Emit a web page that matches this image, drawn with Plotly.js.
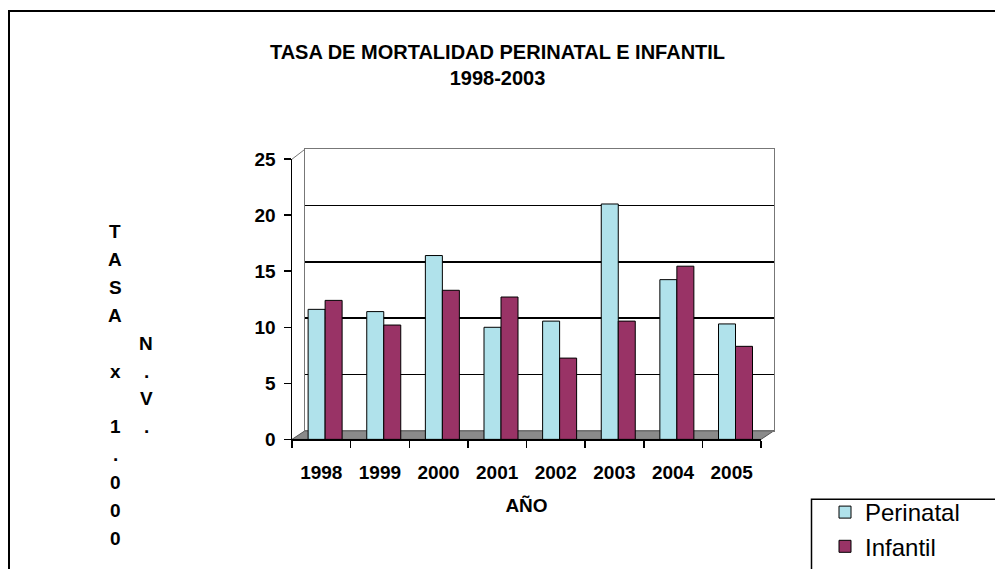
<!DOCTYPE html>
<html>
<head>
<meta charset="utf-8">
<script src="https://cdn.plot.ly/plotly-3.0.1.min.js"></script>
<style>
html,body{margin:0;padding:0;background:#fff;overflow:hidden;}
#chart{width:995px;height:569px;overflow:hidden;}
</style>
</head>
<body>
<div id="chart"></div>
<script>
var years = ["1998","1999","2000","2001","2002","2003","2004","2005"];
var perinatal = [11.6, 11.4, 16.4, 10.0, 10.55, 21.0, 14.25, 10.3];
var infantil = [12.4, 10.2, 13.3, 12.7, 7.25, 10.55, 15.45, 8.3];
var yTicks = [0, 5, 10, 15, 20, 25];
var titleMain = "TASA DE MORTALIDAD PERINATAL E INFANTIL";
var titleSub = "1998-2003";
var yTitleCol1 = "TASA x 1.000";
var yTitleCol2 = "N.V.";

var W = 995, H = 569;
function px(x){ return x / W; }
function py(y){ return 1 - y / H; }
var FONT = "Liberation Sans, Arial, sans-serif";

var traces = [
  {x:[null], y:[null], xaxis:'x', yaxis:'y', type:'scatter', mode:'markers', showlegend:false, hoverinfo:'skip'},
  {name:'Perinatal', x:years, y:perinatal, type:'bar', xaxis:'x2', yaxis:'y2',
   width:0.29, offset:-0.225,
   marker:{color:'#b0e2eb', line:{color:'#000', width:1}}},
  {name:'Infantil', x:years, y:infantil, type:'bar', xaxis:'x2', yaxis:'y2',
   width:0.29, offset:0.065,
   marker:{color:'#993366', line:{color:'#000', width:1}}}
];

var annotations = [];
for (var i = 0; i < yTitleCol1.length; i++) {
  var ch = yTitleCol1[i];
  if (ch === ' ') continue;
  annotations.push({text:ch, xref:'paper', yref:'paper', x:px(115), y:py(233 + 28*i),
    xanchor:'center', yanchor:'middle', showarrow:false,
    font:{family:FONT, size:19, color:'#000', weight:'bold'}});
}
for (var j = 0; j < yTitleCol2.length; j++) {
  annotations.push({text:yTitleCol2[j], xref:'paper', yref:'paper', x:px(146), y:py(345 + 28*j),
    xanchor:'center', yanchor:'middle', showarrow:false,
    font:{family:FONT, size:19, color:'#000', weight:'bold'}});
}

var floorPath = 'M ' + px(292) + ' ' + py(441.7) + ' L ' + px(761) + ' ' + py(441.7) +
  ' L ' + px(774) + ' ' + py(433) + ' L ' + px(305) + ' ' + py(433) + ' Z';

var shapes = [
  {type:'path', xref:'paper', yref:'paper', path:floorPath, fillcolor:'#8a8a8a',
   line:{color:'#555', width:1}, layer:'below'},
  {type:'line', xref:'paper', yref:'paper', x0:px(292), y0:py(160), x1:px(305), y1:py(150),
   line:{color:'#777', width:1}},
  {type:'rect', xref:'paper', yref:'paper', x0:px(9), y0:py(11), x1:px(1010), y1:py(590),
   line:{color:'#000', width:2}, fillcolor:'rgba(0,0,0,0)'},
  {type:'rect', xref:'paper', yref:'paper', x0:px(811.5), y0:py(502), x1:px(1010), y1:py(590),
   line:{color:'#000', width:1.5}, fillcolor:'rgba(0,0,0,0)'}
];

var layout = {
  width:W, height:H,
  margin:{l:0, r:0, t:0, b:0},
  paper_bgcolor:'#fff', plot_bgcolor:'rgba(0,0,0,0)',
  font:{family:FONT, color:'#000'},
  title:{text:titleMain + '<br>' + titleSub, x:0.5, xanchor:'center', xref:'container',
         y:py(59), yanchor:'top', yref:'container',
         font:{family:FONT, size:20, color:'#000', weight:'bold'}},
  showlegend:true,
  legend:{x:px(825), y:py(493), xanchor:'left', yanchor:'top', bgcolor:'rgba(0,0,0,0)',
          borderwidth:0, font:{family:FONT, size:24, color:'#000'}, tracegroupgap:0,
          itemwidth:30},
  barmode:'group', bargap:0.4, bargroupgap:0,
  xaxis:{domain:[px(305), px(774)], range:[0,1], anchor:'y', showgrid:false, zeroline:false,
         showline:true, mirror:true, linecolor:'#777', linewidth:1, ticks:'', showticklabels:false,
         fixedrange:true},
  yaxis:{domain:[py(433), py(150)], range:[0,25], anchor:'x', tickvals:yTicks, showgrid:true,
         gridcolor:'#000', gridwidth:1.5, zeroline:false, showline:true, mirror:true,
         linecolor:'#777', linewidth:1, ticks:'', showticklabels:false, fixedrange:true},
  xaxis2:{domain:[px(292), px(761)], anchor:'y2', type:'category', showgrid:false, zeroline:false,
          showline:true, linecolor:'#000', linewidth:1.5, ticks:'outside', ticklen:7, tickwidth:1.5,
          tickcolor:'#000', tickson:'boundaries', ticklabelstandoff:15,
          tickfont:{family:FONT, size:19, color:'#000', weight:'bold'},
          title:{text:'AÑO', standoff:17, font:{family:FONT, size:19, color:'#000', weight:'bold'}},
          fixedrange:true},
  yaxis2:{domain:[py(441.7), py(160)], anchor:'x2', range:[0,25], tickvals:yTicks,
          ticktext:yTicks.map(String), showgrid:false, zeroline:false, showline:true,
          linecolor:'#000', linewidth:1.5, ticks:'outside', ticklen:7, tickwidth:1.5, tickcolor:'#000',
          ticklabelstandoff:4,
          tickfont:{family:FONT, size:19, color:'#000', weight:'bold'}, fixedrange:true},
  annotations:annotations,
  shapes:shapes
};

Plotly.newPlot('chart', traces, layout, {displayModeBar:false, staticPlot:true});
</script>
</body>
</html>
